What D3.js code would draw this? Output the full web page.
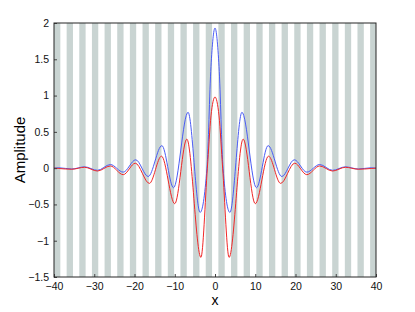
<!DOCTYPE html>
<html>
<head>
<meta charset="utf-8">
<script src="https://cdn.jsdelivr.net/npm/d3@7"></script>
<style>
  body { margin: 0; background: #fff; }
  text { font-family: "Liberation Sans", Arial, sans-serif; }
</style>
</head>
<body>
<svg width="415" height="312"></svg>
<script>
// values (extrema and a few shoulder points)
var blueX = [-40, -38.8, -35.6, -32.4, -29.2, -26.0, -22.8, -19.7, -16.6, -13.2, -10.3, -6.7, -3.7, -2.0, -1.0, 0,
             1.0, 2.0, 3.7, 6.7, 10.3, 13.2, 16.6, 19.7, 22.8, 26.0, 29.2, 32.4, 35.6, 38.8, 40];
var blueY = [0, 0.005, -0.012, 0.018, -0.03, 0.05, -0.055, 0.115, -0.115, 0.31, -0.27, 0.77, -0.61, 0, 1.4, 1.93,
             1.4, 0, -0.61, 0.77, -0.27, 0.31, -0.115, 0.115, -0.055, 0.05, -0.03, 0.018, -0.012, 0.005, 0];
var redX = [-40, -38.8, -35.6, -32.4, -29.2, -26.0, -22.8, -19.8, -16.3, -13.3, -10.0, -7.0, -3.5, -1.9, -1.0, 0,
            1.0, 1.9, 3.5, 7.0, 10.0, 13.3, 16.3, 19.8, 22.8, 26.0, 29.2, 32.4, 35.6, 38.8, 40];
var redY = [0, -0.005, -0.015, 0.012, -0.04, 0.03, -0.09, 0.068, -0.21, 0.165, -0.49, 0.40, -1.23, 0, 0.72, 0.98,
            0.72, 0, -1.23, 0.40, -0.49, 0.165, -0.21, 0.068, -0.09, 0.03, -0.04, 0.012, -0.015, -0.005, 0];
var xTicks = [-40, -30, -20, -10, 0, 10, 20, 30, 40];
var yTicks = [-1.5, -1, -0.5, 0, 0.5, 1, 1.5, 2];

var svg = d3.select("svg"),
    margin = {top: 23, right: 39, bottom: 35, left: 54},
    width = +svg.attr("width") - margin.left - margin.right,
    height = +svg.attr("height") - margin.top - margin.bottom,
    g = svg.append("g").attr("transform", "translate(" + margin.left + "," + margin.top + ")");

var x = d3.scaleLinear().domain([-40, 40]).range([0, width]);
var y = d3.scaleLinear().domain([-1.5, 2]).range([height, 0]);

// background stripes
var stripes = d3.range(-40, 40, Math.PI);
g.selectAll(".stripe")
    .data(stripes)
    .enter()
    .append("rect")
    .attr("class", "stripe")
    .attr("x", function(d) { return x(d); })
    .attr("y", 0)
    .attr("width", function(d) { return x(Math.min(d + Math.PI / 2, 40)) - x(d); })
    .attr("height", height)
    .attr("fill", "#c9d4d2");

var fmt = function(d) { return String(d).replace("-", "\u2212"); };

var line = d3.line().curve(d3.curveMonotoneX);

function pts(xs, ys) {
    return xs.map(function(v, i) { return [x(v), y(ys[i])]; });
}

g.append("path")
    .attr("d", line(pts(blueX, blueY)))
    .attr("fill", "none")
    .attr("stroke", "#4a5cf5")
    .attr("stroke-width", 1);

g.append("path")
    .attr("d", line(pts(redX, redY)))
    .attr("fill", "none")
    .attr("stroke", "#f02828")
    .attr("stroke-width", 1);

// axes, ticks inward
var xAxis = g.append("g")
    .attr("transform", "translate(0," + height + ")")
    .call(d3.axisBottom(x).tickValues(xTicks).tickSizeInner(-3).tickSizeOuter(0).tickPadding(6).tickFormat(fmt));
var yAxis = g.append("g")
    .call(d3.axisLeft(y).tickValues(yTicks).tickSizeInner(-3).tickSizeOuter(0).tickPadding(5).tickFormat(fmt));

[xAxis, yAxis].forEach(function(a) {
    a.selectAll("text").attr("font-size", "10.5px").attr("fill", "#111").style("font-family", "Liberation Sans, Arial, sans-serif");
    a.selectAll("line").attr("stroke", "#444");
    a.select(".domain").remove();
});

g.append("rect")
    .attr("width", width)
    .attr("height", height)
    .attr("fill", "none")
    .attr("stroke", "#262626")
    .attr("stroke-width", 1);

svg.append("text")
    .attr("x", margin.left + width / 2)
    .attr("y", 305)
    .attr("text-anchor", "middle")
    .attr("font-size", "14px")
    .text("x");

svg.append("text")
    .attr("transform", "translate(25," + (margin.top + height / 2) + ") rotate(-90)")
    .attr("text-anchor", "middle")
    .attr("font-size", "15px")
    .text("Amplitude");
</script>
</body>
</html>
